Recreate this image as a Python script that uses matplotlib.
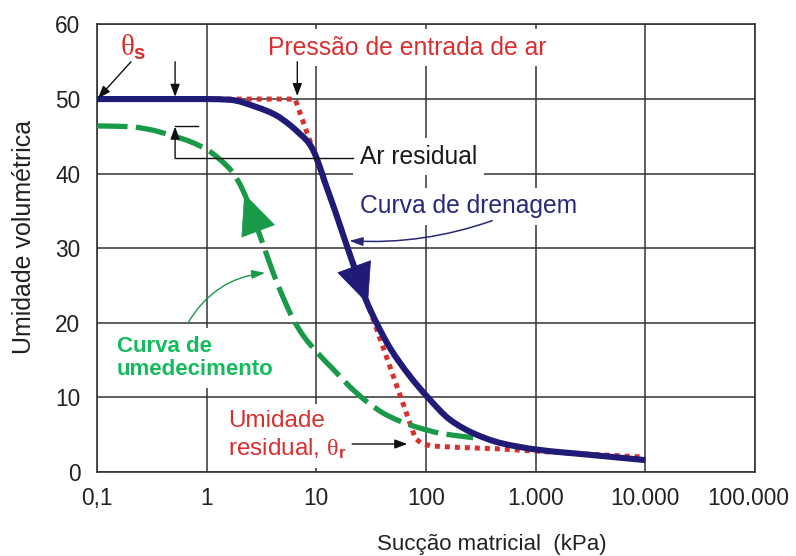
import numpy as np
import matplotlib
matplotlib.use("Agg")
import matplotlib.pyplot as plt
import matplotlib.transforms as mtransforms
from matplotlib.path import Path
from matplotlib.patches import PathPatch
from matplotlib.ticker import NullLocator, FixedLocator, FixedFormatter

plt.rcParams["font.family"] = ["Liberation Sans", "DejaVu Sans"]
plt.rcParams["mathtext.fontset"] = "custom"
plt.rcParams["mathtext.rm"] = "Liberation Serif"
plt.rcParams["mathtext.it"] = "Liberation Serif"
plt.rcParams["mathtext.bf"] = "Liberation Sans:bold"
plt.rcParams["lines.scale_dashes"] = False

# Axis ticks
x_ticks = [0.1, 1, 10, 100, 1000, 10000, 100000]
x_tick_labels = ["0,1", "1", "10", "100", "1.000", "10.000", "100.000"]
y_ticks = [0, 10, 20, 30, 40, 50, 60]

# Drainage (drying) curve: suction (kPa) vs volumetric water content
drain_suction = [0.1, 1.0, 1.63, 2.88, 4.21, 5.77, 7.11, 8.24, 9.16, 10.17, 12.0,
                 14.9, 18.3, 22.6, 27.9, 35.9, 47.1, 71.7, 102.6, 166.0, 270.0,
                 476.0, 1035.0, 3160.0, 10000.0]
drain_theta = [50.0, 50.0, 49.9, 48.9, 47.9, 46.5, 45.3, 44.4, 43.4, 41.9, 38.8,
               34.9, 31.0, 27.1, 23.3, 19.8, 16.6, 12.8, 10.1, 7.0, 5.2,
               3.9, 3.0, 2.3, 1.6]

# Idealised (bilinear) drainage curve
ideal_suction = [1.0, 6.4, 80.0, 90.0, 110.0, 200.0, 480.0, 1000.0, 3000.0, 10000.0]
ideal_theta = [50.0, 50.0, 4.5, 3.9, 3.5, 3.3, 3.1, 2.8, 2.4, 2.0]

# Wetting curve
wet_suction = [0.1, 0.2, 0.305, 0.46, 0.706, 1.01, 1.32, 1.74, 2.15, 2.65, 3.27,
               4.04, 4.98, 6.14, 7.58, 10.2, 14.2, 20.3, 28.5, 40.7, 58.2, 83.2,
               135.0, 238.0, 269.0]
wet_theta = [46.4, 46.3, 45.9, 45.2, 44.3, 43.2, 41.9, 40.1, 37.7, 34.2, 30.5,
             26.7, 23.4, 20.5, 18.3, 16.0, 13.8, 11.4, 9.5, 7.9, 6.8, 6.0,
             5.2, 4.7, 4.6]

NAVY = "#1f1b77"
RED = "#d8302e"
GREEN = "#189a48"
GREEN_TXT = "#14bb5c"
GRID = "#333333"


def smooth_path(xs, ys):
    """Monotone cubic (Hermite) path through the points, in log-x space,
    expressed as Bezier segments so the curve renders smoothly."""
    u = np.log10(np.asarray(xs, float))
    y = np.asarray(ys, float)
    h = np.diff(u)
    d = np.diff(y) / h
    m = np.zeros_like(y)
    m[0], m[-1] = d[0], d[-1]
    for k in range(1, len(y) - 1):
        if d[k - 1] * d[k] <= 0:
            m[k] = 0.0
        else:
            w1 = 2 * h[k] + h[k - 1]
            w2 = h[k] + 2 * h[k - 1]
            m[k] = (w1 + w2) / (w1 / d[k - 1] + w2 / d[k])
    verts = [(xs[0], ys[0])]
    codes = [Path.MOVETO]
    for i in range(len(h)):
        c1 = (10 ** (u[i] + h[i] / 3), y[i] + m[i] * h[i] / 3)
        c2 = (10 ** (u[i + 1] - h[i] / 3), y[i + 1] - m[i + 1] * h[i] / 3)
        verts += [c1, c2, (xs[i + 1], ys[i + 1])]
        codes += [Path.CURVE4] * 3
    return Path(verts, codes)


fig = plt.figure(figsize=(7.96, 5.56), dpi=100)
ax = fig.add_axes([0.1219, 0.151, 0.8266, 0.805])

ax.set_xscale("log")
ax.set_xlim(0.1, 100000)
ax.set_ylim(0, 60)
ax.xaxis.set_major_locator(FixedLocator(x_ticks))
ax.xaxis.set_major_formatter(FixedFormatter(x_tick_labels))
ax.xaxis.set_minor_locator(NullLocator())
ax.set_yticks(y_ticks)
ax.tick_params(axis="both", length=0, labelsize=16.3, colors="#222222")
ax.tick_params(axis="x", pad=11)
ax.tick_params(axis="y", pad=12)
ax.grid(True, color=GRID, lw=1.1, zorder=1)
ax.set_axisbelow(True)
for s in ax.spines.values():
    s.set_color(GRID)
    s.set_linewidth(1.2)

# last x tick label sits slightly inside the right border
last_lbl = ax.get_xticklabels()[-1]
last_lbl.set_transform(last_lbl.get_transform() +
                       mtransforms.ScaledTranslation(-7 / 100, 0, fig.dpi_scale_trans))

ax.set_xlabel("Sucção matricial  (kPa)", fontsize=16, color="#222222", va="center")
ax.xaxis.set_label_coords(0.600, -0.163)
ax.set_ylabel("Umidade volumétrica", fontsize=18, color="#222222", va="center")
ax.yaxis.set_label_coords(-0.111, 0.525)

# Curves
ax.plot(ideal_suction, ideal_theta, color=RED, lw=3.6, dashes=(3.6, 3.6),
        dash_capstyle="butt", zorder=4)
ax.add_patch(PathPatch(smooth_path(wet_suction, wet_theta), fill=False,
                       edgecolor=GREEN, lw=3.8, linestyle=(0, (22, 6)),
                       capstyle="butt", joinstyle="round", zorder=5))
ax.add_patch(PathPatch(smooth_path(drain_suction, drain_theta), fill=False,
                       edgecolor=NAVY, lw=4.4, capstyle="butt",
                       joinstyle="round", zorder=6))


def on_curve(xs, ys, x):
    return float(np.interp(np.log10(x), np.log10(xs), ys))


# Direction arrowheads on the curves
for xs, ys, tip, base, col in [(drain_suction, drain_theta, 29.5, 21.0, NAVY),
                               (wet_suction, wet_theta, 2.2, 3.1, GREEN)]:
    ax.annotate("", xy=(tip, on_curve(xs, ys, tip)),
                xytext=(base, on_curve(xs, ys, base)),
                arrowprops=dict(arrowstyle="-|>,head_length=28,head_width=12.5",
                                mutation_scale=1, color=col, lw=0.5,
                                shrinkA=0, shrinkB=0),
                zorder=7)

thin = dict(arrowstyle="-|>,head_length=7.5,head_width=2.8", mutation_scale=1,
            color="#111111", lw=1.0, shrinkA=0, shrinkB=0)
white_box = dict(facecolor="white", edgecolor="none")

# theta_s
ax.text(0.163, 56.9, r"$\theta_{\mathbf{s}}$", color=RED, fontsize=21,
        ha="left", va="center", zorder=8)
ax.annotate("", xy=(0.102, 50.1), xytext=(0.204, 55.0), arrowprops=thin, zorder=8)

# Air entry markers
ax.annotate("", xy=(0.515, 50.3), xytext=(0.515, 55.0), arrowprops=thin, zorder=8)
ax.annotate("", xy=(6.7, 50.4), xytext=(6.7, 55.0), arrowprops=thin, zorder=8)
ax.text(3.63, 56.9, "Pressão de entrada de ar", color=RED, fontsize=17.8,
        ha="left", va="center", zorder=3, bbox=dict(white_box, pad=4.5))

# Residual air bracket
ax.plot([0.515, 0.836], [wet_theta[0], wet_theta[0]], color="#111111", lw=1.0, zorder=8)
ax.annotate("", xy=(0.515, wet_theta[0] - 0.1), xytext=(0.515, 42.1),
            arrowprops=thin, zorder=8)
ax.plot([0.515, 21.7], [42.1, 42.1], color="#111111", lw=1.0, zorder=8)
ax.text(25.1, 42.3, "Ar residual", color="#1a1a1a", fontsize=17.7,
        ha="left", va="center", zorder=3, bbox=dict(white_box, pad=5))

# Drainage label
ax.text(25.1, 35.6, "Curva de drenagem", color="#2a2878", fontsize=17.7,
        ha="left", va="center", zorder=3, bbox=dict(white_box, pad=5))
ax.annotate("", xy=(20.0, 31.0), xytext=(402, 33.7),
            arrowprops=dict(arrowstyle="-|>,head_length=8,head_width=2.6",
                            mutation_scale=1, color="#2a2878", lw=1.1,
                            shrinkA=0, shrinkB=0,
                            connectionstyle="arc3,rad=-0.1"),
            zorder=8)

# Wetting label
ax.text(0.152, 15.3, "Curva de\numedecimento", color=GREEN_TXT, fontsize=16,
        fontweight="bold", ha="left", va="center", linespacing=1.1, zorder=3,
        bbox=dict(white_box, pad=6))
ax.annotate("", xy=(3.41, 26.7), xytext=(0.676, 20.0),
            arrowprops=dict(arrowstyle="-|>,head_length=8,head_width=2.6",
                            mutation_scale=1, color=GREEN, lw=1.0,
                            shrinkA=0, shrinkB=0,
                            connectionstyle="arc3,rad=-0.25"),
            zorder=8)

# Residual water content
ax.text(1.566, 4.9, "Umidade\nresidual, $\\theta_{\\mathbf{r}}$", color=RED,
        fontsize=17.5, ha="left", va="center", linespacing=1.2, zorder=3,
        bbox=dict(white_box, pad=5))
ax.annotate("", xy=(67.5, 3.76), xytext=(21.2, 3.76), arrowprops=thin, zorder=8)

fig.savefig("out.png", dpi=100)
